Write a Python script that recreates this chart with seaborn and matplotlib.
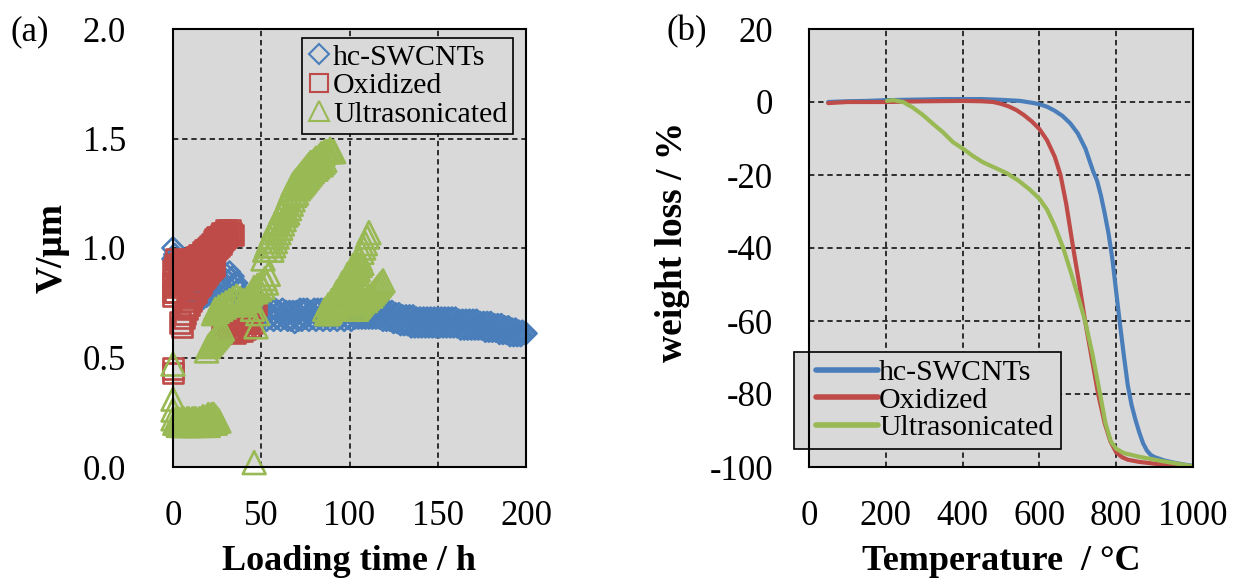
import matplotlib
matplotlib.use("Agg")
import matplotlib.pyplot as plt
from matplotlib.lines import Line2D
from matplotlib.legend_handler import HandlerLine2D
import seaborn as sns
import pandas as pd

# ---------------- data: panel (a) ----------------
series_names = ["hc-SWCNTs", "Oxidized", "Ultrasonicated"]

hc_t = [0, 0, 1, 2, 3, 4, 5, 6, 7, 8, 9, 10, 11,
        12, 13, 14, 15, 16, 17, 18, 19, 20, 21, 22, 23, 24, 25, 26, 27, 28, 29, 30, 31, 32, 33, 34, 35,
        36, 37, 38, 39, 40, 41, 42, 43, 44, 45,
        46, 47, 48, 49, 50, 51, 52, 53, 54, 55, 56, 57, 58, 59, 60, 61, 62, 63, 64, 65, 66, 67, 68, 69,
        70, 71, 72, 73, 74, 75, 76, 77, 78, 79, 80, 81, 82, 83, 84, 85, 86, 87, 88, 89, 90, 91, 92, 93,
        94, 95, 96, 97, 98, 99, 100, 101, 102, 103, 104, 105, 106, 107, 108, 109, 110, 111, 112, 113,
        114, 115, 116, 117, 118, 119, 120, 121, 122, 123, 124, 125, 126, 127, 128, 129, 130, 131, 132,
        133, 134, 135, 136, 137, 138, 139, 140, 141, 142, 143, 144, 145, 146, 147, 148, 149, 150, 151,
        152, 153, 154, 155, 156, 157, 158, 159, 160, 161, 162, 163, 164, 165, 166, 167, 168, 169, 170,
        171, 172, 173, 174, 175, 176, 177, 178, 179, 180, 181, 182, 183, 184, 185, 186, 187, 188, 189,
        190, 191, 192, 193, 194, 195, 196, 197, 198, 199, 200]
hc_v = [1.00, 0.95, 0.97, 0.93, 0.90, 0.92, 0.88, 0.90, 0.87, 0.88, 0.85, 0.84, 0.82,
        0.80, 0.77, 0.79, 0.76, 0.78, 0.77, 0.80, 0.78, 0.81, 0.79, 0.82, 0.80, 0.84, 0.82, 0.85, 0.83,
        0.87, 0.84, 0.88, 0.85, 0.89, 0.86, 0.87, 0.84,
        0.84, 0.81, 0.80, 0.77, 0.77, 0.74, 0.74, 0.71, 0.72, 0.69,
        0.72, 0.67, 0.71, 0.67, 0.72, 0.68, 0.72, 0.67, 0.71, 0.68, 0.72, 0.67, 0.72, 0.68, 0.71, 0.67,
        0.72, 0.68, 0.71, 0.67, 0.71, 0.67, 0.71, 0.66, 0.71, 0.67, 0.72, 0.67, 0.72, 0.68, 0.72, 0.67,
        0.71, 0.68, 0.72, 0.67, 0.72, 0.68, 0.72, 0.67, 0.71, 0.68, 0.72, 0.67, 0.72, 0.68, 0.71, 0.67,
        0.72, 0.68, 0.72, 0.67, 0.72, 0.68, 0.72, 0.67, 0.72, 0.68, 0.72, 0.68, 0.72, 0.68, 0.73, 0.68,
        0.72, 0.68, 0.73, 0.68, 0.72, 0.68, 0.72, 0.68, 0.72, 0.67, 0.71, 0.67, 0.71, 0.67, 0.71, 0.66,
        0.70, 0.66, 0.70, 0.65, 0.69, 0.65, 0.69, 0.65, 0.69, 0.64, 0.69, 0.64, 0.68, 0.64, 0.68, 0.64,
        0.68, 0.64, 0.68, 0.64, 0.68, 0.64, 0.68, 0.64, 0.68, 0.64, 0.68, 0.64, 0.68, 0.64, 0.68, 0.64,
        0.68, 0.64, 0.68, 0.64, 0.67, 0.63, 0.67, 0.63, 0.67, 0.63, 0.67, 0.63, 0.67, 0.63, 0.67, 0.63,
        0.66, 0.63, 0.66, 0.62, 0.66, 0.62, 0.66, 0.62, 0.65, 0.62, 0.65, 0.61, 0.65, 0.61, 0.64, 0.61,
        0.64, 0.60, 0.63, 0.60, 0.63, 0.60, 0.62, 0.60, 0.62, 0.61, 0.61]

ox_t = [0, 0, 0, 0, 0,
        0, 1, 2, 3, 4, 5, 6, 7, 8, 9, 10, 11, 12, 13, 14, 15, 16, 17, 18, 19, 20, 21, 22, 23, 24, 25, 26,
        27, 28, 29, 30, 31, 32, 33, 34,
        1, 2, 3, 4, 5, 6, 7, 8, 9, 10, 11, 12, 13, 14, 15, 16, 17, 18, 19, 20, 21, 22, 23, 24, 25, 26,
        27, 28, 29, 30,
        4, 5, 6, 7, 8, 9, 10, 11, 12, 13, 14, 15, 16, 17, 18, 19, 20, 21, 22, 23,
        28, 29, 30, 31, 32, 33, 34, 35, 36, 37, 38, 39, 40, 41, 42, 43, 44, 45, 46, 47]
ox_v = [0.43, 0.45, 0.78, 0.80, 0.84,
        0.90, 0.92, 0.95, 0.92, 0.93, 0.94, 0.93, 0.92, 0.93, 0.94, 0.95, 0.94, 0.95, 0.96, 0.96, 0.97,
        0.97, 0.98, 0.99, 0.99, 1.00, 1.01, 1.02, 1.03, 1.04, 1.05, 1.05, 1.06, 1.07, 1.07, 1.08, 1.07,
        1.08, 1.07, 1.06,
        0.80, 0.82, 0.83, 0.84, 0.85, 0.86, 0.86, 0.87, 0.88, 0.88, 0.89, 0.90, 0.90, 0.91, 0.92, 0.93,
        0.93, 0.94, 0.95, 0.96, 0.96, 0.97, 0.98, 0.99, 1.00, 1.01, 1.02, 1.03, 1.04, 1.05,
        0.66, 0.64, 0.68, 0.70, 0.72, 0.74, 0.76, 0.78, 0.79, 0.80, 0.82, 0.83, 0.84, 0.86, 0.87, 0.88,
        0.89, 0.90, 0.91, 0.92,
        0.66, 0.62, 0.68, 0.63, 0.67, 0.62, 0.66, 0.61, 0.65, 0.62, 0.66, 0.62, 0.67, 0.63, 0.66, 0.64,
        0.68, 0.66, 0.72, 0.74]

us_t = [0, 0, 0, 0,
        1, 2, 3, 4, 5, 6, 7, 8, 9, 10, 11, 12, 13, 14, 15, 16, 17, 18, 19, 20, 21, 22, 23, 24, 25,
        2, 3, 4, 5, 6, 7, 8, 9, 10, 11, 12, 13, 14, 15, 16, 17, 18, 19, 20, 21, 22, 23, 24, 25, 26,
        46,
        19, 20, 21, 22, 23, 24, 25, 26, 27, 28,
        23, 24, 25, 26, 27, 28, 29, 30, 31, 32, 33, 34, 35, 36, 37, 38, 39, 40, 41, 42, 43, 44,
        45, 46, 47, 48, 49, 50, 51, 52, 53, 54, 47, 48, 45,
        51, 52, 53, 54, 55, 56, 57, 58, 59, 60, 61, 62, 63, 64, 65, 66, 67, 68, 69, 70, 71, 72, 73, 74,
        75, 76, 77, 78, 79, 80, 81, 82, 83, 84, 85, 86, 87, 88, 89, 90, 91,
        56, 57, 58, 59, 60, 61, 62, 63, 64, 65, 66, 67, 68, 69, 70, 71, 72, 73, 74, 75, 76, 77, 78, 79,
        80, 81, 82, 83, 84, 85, 86,
        86, 87, 88, 89, 90, 91, 92, 93, 94, 95, 96, 97, 98, 99, 100, 101, 102, 103, 104, 105, 106, 107,
        108, 109, 110, 111,
        88, 89, 90, 91, 92, 93, 94, 95, 96, 97, 98, 99, 100, 101, 102, 103, 104, 105, 106, 107,
        104, 105, 106, 107, 108, 109, 110, 111, 112, 113, 114, 115, 116, 117, 118, 119]
us_v = [0.47, 0.31, 0.26, 0.22,
        0.20, 0.20, 0.19, 0.19, 0.20, 0.19, 0.19, 0.20, 0.19, 0.19, 0.19, 0.20, 0.19, 0.19, 0.20, 0.20,
        0.19, 0.20, 0.20, 0.19, 0.20, 0.21, 0.20, 0.20, 0.21,
        0.22, 0.22, 0.21, 0.22, 0.22, 0.21, 0.22, 0.22, 0.21, 0.22, 0.22, 0.22, 0.21, 0.22, 0.22, 0.23,
        0.22, 0.23, 0.24, 0.23, 0.24, 0.24, 0.23, 0.22, 0.21,
        0.02,
        0.53, 0.55, 0.56, 0.57, 0.58, 0.59, 0.60, 0.61, 0.62, 0.63,
        0.70, 0.72, 0.71, 0.73, 0.72, 0.74, 0.73, 0.75, 0.74, 0.76, 0.75, 0.77, 0.76, 0.78, 0.76, 0.77,
        0.75, 0.76, 0.74, 0.77, 0.76, 0.79, 0.80, 0.82, 0.80, 0.83, 0.81, 0.84, 0.82, 0.86, 0.84, 0.88,
        0.64, 0.70, 0.72,
        0.95, 0.99, 1.01, 1.03, 1.05, 1.07, 1.09, 1.11, 1.12, 1.14, 1.16, 1.17, 1.19, 1.21, 1.23, 1.25,
        1.27, 1.29, 1.30, 1.31, 1.32, 1.33, 1.34, 1.35, 1.36, 1.37, 1.38, 1.39, 1.39, 1.40, 1.41, 1.41,
        1.42, 1.43, 1.43, 1.44, 1.44, 1.44, 1.45, 1.44, 1.44,
        0.99, 1.01, 1.03, 1.05, 1.07, 1.09, 1.11, 1.13, 1.15, 1.16, 1.18, 1.20, 1.22, 1.24, 1.25, 1.27,
        1.28, 1.29, 1.30, 1.31, 1.32, 1.33, 1.34, 1.35, 1.36, 1.36, 1.37, 1.38, 1.38, 1.39, 1.40,
        0.72, 0.70, 0.74, 0.72, 0.76, 0.74, 0.78, 0.80, 0.78, 0.82, 0.84, 0.82, 0.86, 0.88, 0.87, 0.90,
        0.92, 0.91, 0.94, 0.96, 0.95, 0.98, 1.00, 1.02, 1.05, 1.07,
        0.70, 0.71, 0.72, 0.73, 0.74, 0.75, 0.76, 0.77, 0.78, 0.80, 0.81, 0.82, 0.84, 0.85, 0.86, 0.88,
        0.89, 0.90, 0.92, 0.93,
        0.72, 0.73, 0.74, 0.75, 0.76, 0.76, 0.77, 0.78, 0.78, 0.79, 0.80, 0.81, 0.82, 0.83, 0.84, 0.85]

a_xticks = [0, 50, 100, 150, 200]
a_yticks = [0.0, 0.5, 1.0, 1.5, 2.0]
a_yticklabels = ["0.0", "0.5", "1.0", "1.5", "2.0"]

# ---------------- data: panel (b) ----------------
hc_T = [50, 100, 150, 200, 250, 300, 350, 400, 450, 500, 550, 580, 600, 620, 640, 660, 680, 700, 720,
        740, 750, 760, 770, 780, 790, 800, 810, 820, 830, 840, 850, 860, 870, 880, 890, 900, 925, 950,
        975, 1000]
hc_w = [0, 0.2, 0.3, 0.5, 0.6, 0.7, 0.8, 0.8, 0.8, 0.6, 0.3, -0.2, -0.6, -1.3, -2.4, -3.8, -5.8, -8.6,
        -12.8, -19, -21.5, -25.5, -30.5, -36, -43, -52, -61, -69.5, -77.5, -83, -87, -90.5, -93.5, -95.5,
        -96.7, -97.3, -98.2, -98.8, -99.3, -99.7]
ox_T = [50, 100, 200, 300, 400, 450, 480, 500, 520, 540, 560, 580, 600, 620, 640, 655, 670, 688, 704,
        719, 736, 753, 770, 785, 800, 815, 830, 860, 900, 950, 1000]
ox_w = [-0.3, 0, 0, 0.2, 0.3, 0.2, 0, -0.5, -1.2, -2.2, -3.6, -5.3, -7.4, -10.5, -15, -20, -28, -40,
        -50, -60, -70, -80, -88, -93, -96, -97.3, -98, -98.6, -99.1, -99.6, -100]
us_T = [203, 220, 245, 270, 297, 323, 349, 375, 401, 427, 453, 484, 515, 545, 575, 600, 620, 640, 662,
        680, 700, 719, 738, 758, 772, 786, 800, 820, 860, 920, 1000]
us_w = [0.3, 0.5, 0, -1.5, -3.6, -6, -8.3, -11, -12.8, -14.8, -16.5, -18, -19.5, -21.5, -24, -26.5,
        -29.5, -34, -40, -46, -53, -60, -69, -80, -88, -93, -95, -96.2, -97.2, -98.4, -99.8]

b_xticks = [0, 200, 400, 600, 800, 1000]
b_yticks = [20, 0, -20, -40, -60, -80, -100]
b_yticklabels = ["20", "0", "-20", "-40", "-60", "-80", "-100"]

colors = ["#4A7EBB", "#BE4B48", "#98B954"]
markers = ["D", "s", "^"]

# ---------------- style ----------------
sns.set_style("whitegrid", {"axes.facecolor": "#d9d9d9", "axes.edgecolor": "black",
                            "grid.color": "black", "text.color": "black",
                            "axes.labelcolor": "black", "xtick.color": "black",
                            "ytick.color": "black"})
plt.rcParams["font.family"] = ["Liberation Serif", "DejaVu Serif"]
plt.rcParams["axes.unicode_minus"] = False

W, H = 1236, 588
fig = plt.figure(figsize=(W / 100, H / 100), dpi=100)
ax1 = fig.add_axes([173 / W, 1 - 467 / H, 353 / W, 438 / H])
ax2 = fig.add_axes([809 / W, 1 - 467 / H, 384 / W, 438 / H])

TICK_FS = 25
LAB_FS = 26
LEG_FS = 21.5

# ---- panel (a) ----
df_a = [pd.DataFrame({"t": hc_t, "v": hc_v}),
        pd.DataFrame({"t": ox_t, "v": ox_v}),
        pd.DataFrame({"t": us_t, "v": us_v})]
sizes = [115, 210, 270]
for i, d in enumerate(df_a):
    sns.scatterplot(data=d, x="t", y="v", ax=ax1, marker=markers[i], s=sizes[i],
                    facecolors="none", edgecolor=colors[i], color=colors[i],
                    linewidth=1.9, clip_on=False, zorder=3 + i, legend=False)

ax1.set_xlim(0, 200)
ax1.set_ylim(0, 2.0)
ax1.set_xticks(a_xticks)
ax1.set_yticks(a_yticks)
ax1.set_yticklabels(a_yticklabels)
ax1.set_xlabel("Loading time / h", fontsize=LAB_FS, fontweight="bold")
ax1.set_ylabel("V/\u03bcm", fontsize=27, fontweight="bold")
ax1.xaxis.set_label_coords(0.5, -0.178)
ax1.yaxis.set_label_coords(-0.292, 0.5)
ax1.tick_params(axis="y", length=0, pad=34, labelsize=TICK_FS)
ax1.tick_params(axis="x", length=0, pad=24, labelsize=TICK_FS)

handles_a = [Line2D([], [], ls="", marker=markers[i], mfc="none", mec=colors[i],
                    ms=[10.5, 12.5, 14][i], mew=1.5, label=series_names[i]) for i in range(3)]
leg1 = ax1.legend(handles=handles_a, loc="upper right", bbox_to_anchor=(513 / W, 1 - 38 / H),
                  bbox_transform=fig.transFigure, fontsize=LEG_FS, frameon=True, fancybox=False,
                  edgecolor="black", framealpha=1, handlelength=0.75, handletextpad=0.1,
                  labelspacing=0.05, borderpad=0.2, borderaxespad=0)
leg1.get_frame().set_linewidth(1.2)

# ---- panel (b) ----
df_b = [pd.DataFrame({"T": hc_T, "w": hc_w}),
        pd.DataFrame({"T": ox_T, "w": ox_w}),
        pd.DataFrame({"T": us_T, "w": us_w})]
for i, d in enumerate(df_b):
    sns.lineplot(data=d, x="T", y="w", ax=ax2, color=colors[i], lw=3, sort=False,
                 estimator=None, label=series_names[i], zorder=3)

ax2.set_xlim(0, 1000)
ax2.set_ylim(-100, 20)
ax2.set_xticks(b_xticks)
ax2.set_yticks(b_yticks)
ax2.set_yticklabels(b_yticklabels)
ax2.set_xlabel("Temperature  / \u00b0C", fontsize=LAB_FS, fontweight="bold")
ax2.set_ylabel("weight loss / %", fontsize=27, fontweight="bold")
ax2.xaxis.set_label_coords(0.5, -0.178)
ax2.yaxis.set_label_coords(-0.31, 0.514)
ax2.tick_params(axis="y", length=0, pad=26, labelsize=TICK_FS)
ax2.tick_params(axis="x", length=0, pad=24, labelsize=TICK_FS)

h2, l2 = ax2.get_legend_handles_labels()
leg2 = ax2.legend(h2, l2, loc="upper left", bbox_to_anchor=(794 / W, 1 - 352 / H),
                  bbox_transform=fig.transFigure, fontsize=LEG_FS, frameon=True, fancybox=False,
                  edgecolor="black", framealpha=1, handlelength=2.55, handletextpad=0.05,
                  labelspacing=0.02, borderpad=0.25, borderaxespad=0,
                  handler_map={h: HandlerLine2D(xpad=0.5) for h in h2})
leg2.get_frame().set_linewidth(1.2)
for ln in leg2.get_lines():
    ln.set_linewidth(4)

for ax in (ax1, ax2):
    ax.grid(True, color="black", linestyle=(0, (3.5, 2.5)), linewidth=1.1)
    for sp in ax.spines.values():
        sp.set_linewidth(1.5)
        sp.set_color("black")
        sp.set_zorder(10)

fig.text(10 / W, 1 - 32 / H, "(a)", fontsize=25, va="center", ha="left")
fig.text(666 / W, 1 - 32 / H, "(b)", fontsize=25, va="center", ha="left")

fig.savefig("out.png", dpi=100)
